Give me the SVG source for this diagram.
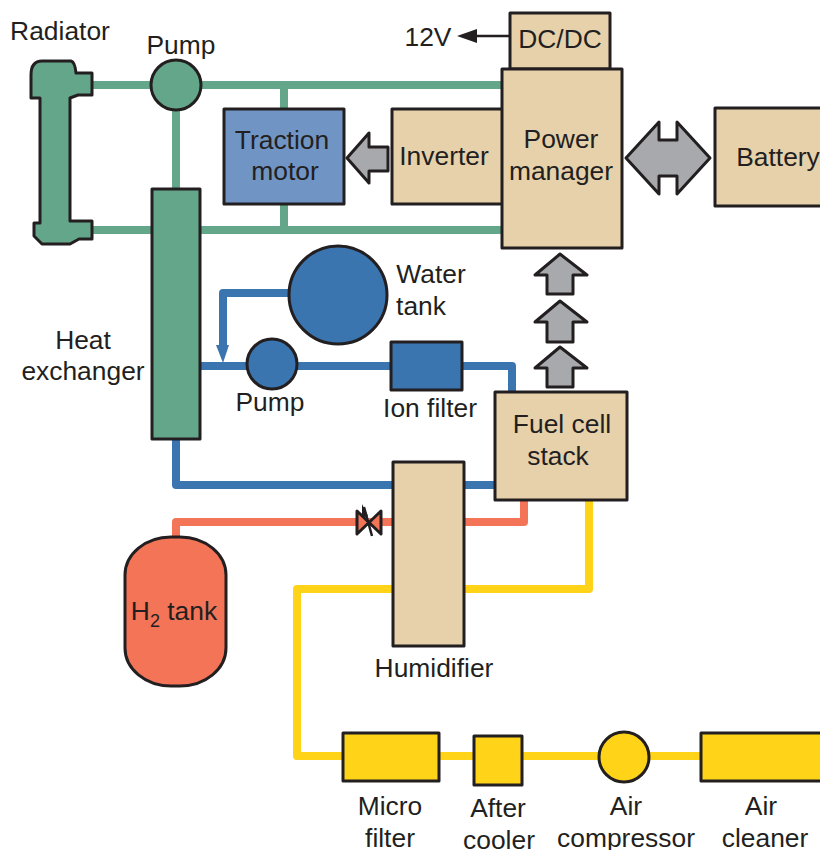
<svg xmlns="http://www.w3.org/2000/svg" width="820" height="850" viewBox="0 0 820 850">
<style>
text{font-family:"Liberation Sans",Arial,sans-serif;font-size:26.4px;fill:#231f20;text-anchor:middle}
.n{stroke:#231f20;stroke-width:3;stroke-linejoin:round}
.tan{fill:#e6d1ab}.gr{fill:#64a68a}.bl{fill:#3a75b0}.ye{fill:#fed318}.re{fill:#f47458}.gy{fill:#a7a9ac}.mo{fill:#7095c4}
.p{fill:none;stroke-width:8;stroke-linejoin:round}
</style>
<rect width="820" height="850" fill="#fff"/>
<g id="connectors">
<path class="p" stroke="#64a68a" d="M90 85H502M90 230H502M176 85V190M284 85V110M284 204V230"/>
<path class="p" stroke="#3a75b0" d="M200 366H512V392M290 293H223V350M176 438V485H496"/>
<path class="p" stroke="#f47458" d="M176 540V522H524V500"/>
<path class="p" stroke="#fed318" d="M589 500V589H297V756H344M438 756H710"/>
<path fill="#3a75b0" d="M216 345H229L223 363Z"/>
<path fill="none" stroke="#231f20" stroke-width="2.5" d="M510 36H474"/>
<path fill="#231f20" d="M457 36L477 29V43Z"/>
</g>
<g id="radiator"><path class="n gr" d="M31 98V75Q31 61 42 61H71Q75 62 76 73H92V95H78L70 98V221H92V239H79L70 244H42L34 236V223H40V98Z"/><text x="60" y="40">Radiator</text></g>
<g id="pump1"><circle class="n gr" cx="176" cy="85" r="25"/><text x="181" y="54">Pump</text></g>
<g id="heat-exchanger"><rect class="n gr" x="152" y="189" width="48" height="250"/><text x="83" y="349">Heat</text><text x="83" y="380">exchanger</text></g>
<g id="traction-motor"><rect class="n mo" x="224" y="109" width="120" height="95"/><text x="282" y="149">Traction</text><text x="285" y="180">motor</text></g>
<g id="inverter"><rect class="n tan" x="392" y="109" width="111" height="95"/><text x="444" y="165">Inverter</text></g>
<g id="dcdc"><rect class="n tan" x="510" y="13" width="100" height="56"/><text x="560" y="48">DC/DC</text></g>
<g id="v12"><text x="428" y="46">12V</text></g>
<g id="power-manager"><rect class="n tan" x="502" y="69" width="120" height="179"/><text x="561" y="148">Power</text><text x="561" y="180">manager</text></g>
<g id="battery"><rect class="n tan" x="715" y="108" width="120" height="98"/><text x="778" y="166">Battery</text></g>
<g id="arrow-motor"><path class="n gy" d="M347 158L369 133V147H388V171H369V183Z"/></g>
<g id="arrow-battery"><path class="n gy" d="M626 158L659 122V140H677V122L710 158L677 194V176H659V194Z"/></g>
<g id="arrows-stack">
<path class="n gy" d="M560 254L587 275H573V294H547V275H535Z"/>
<path class="n gy" d="M560 301L587 322H573V342H547V322H535Z"/>
<path class="n gy" d="M560 347L587 368H573V387H547V368H535Z"/>
</g>
<g id="water-tank"><circle class="n bl" cx="338" cy="295" r="49"/><text x="431" y="283">Water</text><text x="421" y="315">tank</text></g>
<g id="pump2"><circle class="n bl" cx="272" cy="364" r="25"/><text x="270" y="411">Pump</text></g>
<g id="ion-filter"><rect class="n bl" x="391" y="342" width="71" height="48"/><text x="430" y="417">Ion filter</text></g>
<g id="fuel-cell"><rect class="n tan" x="495" y="392" width="132" height="108"/><text x="562" y="433">Fuel cell</text><text x="558" y="465">stack</text></g>
<g id="humidifier"><rect class="n tan" x="393" y="462" width="71" height="184"/><text x="434" y="677">Humidifier</text></g>
<g id="valve"><path class="n re" d="M357 511L381 534V511L357 534Z"/><path fill="none" stroke="#231f20" stroke-width="2.5" d="M364 507L372 536"/><path fill="#231f20" d="M362 504L368 516L362 518Z"/></g>
<g id="h2-tank"><rect class="n re" x="125" y="537" width="101" height="149" rx="46" ry="38"/><text x="174" y="620">H<tspan font-size="18" dy="7">2</tspan><tspan dy="-7"> tank</tspan></text></g>
<g id="micro-filter"><rect class="n ye" x="343" y="733" width="96" height="48"/><text x="390" y="815">Micro</text><text x="390" y="847">filter</text></g>
<g id="after-cooler"><rect class="n ye" x="474" y="736" width="48" height="49"/><text x="498" y="817">After</text><text x="499" y="849">cooler</text></g>
<g id="air-compressor"><circle class="n ye" cx="624" cy="757" r="25"/><text x="626" y="815">Air</text><text x="626" y="847">compressor</text></g>
<g id="air-cleaner"><rect class="n ye" x="701" y="733" width="130" height="48"/><text x="761" y="815">Air</text><text x="765" y="847">cleaner</text></g>
</svg>
